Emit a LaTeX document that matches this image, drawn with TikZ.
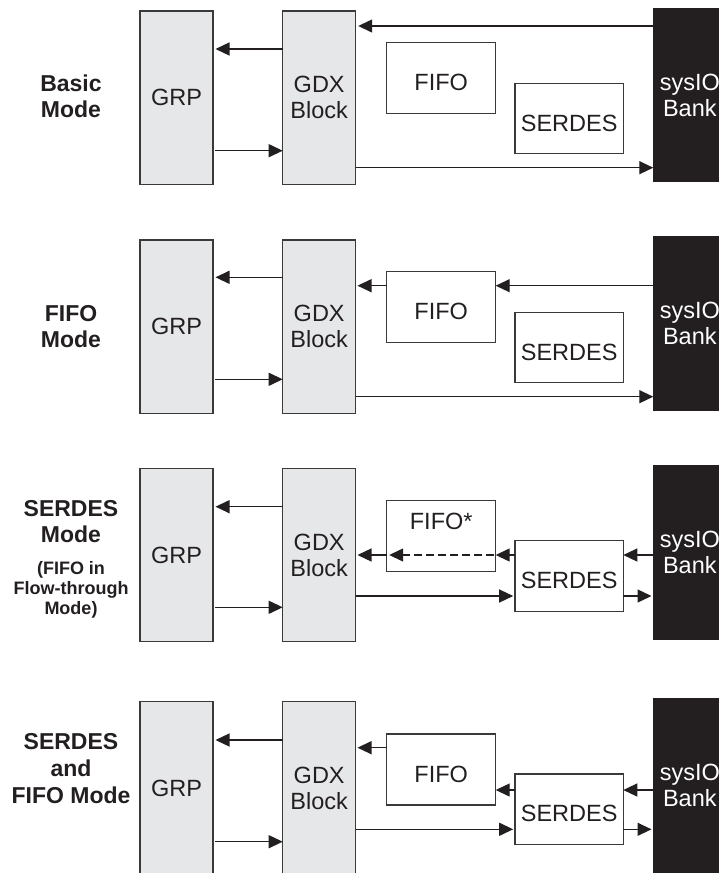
\documentclass[tikz,border=0pt]{standalone}
\usepackage{fontspec}
\setmainfont{Liberation Sans}
\usetikzlibrary{arrows.meta}
\definecolor{ink}{HTML}{231F20}
\definecolor{boxgray}{HTML}{E6E7E8}
\definecolor{edge}{HTML}{3A3A3A}
\begin{document}
\begin{tikzpicture}[x=1pt,y=-1pt,
  every node/.style={inner sep=0pt, outer sep=0pt, text=ink},
  boxfont/.style={font=\fontsize{23.5}{26}\selectfont},
  gbox/.style={boxfont, draw=edge, fill=boxgray, line width=1.2pt, minimum width=73pt,
    minimum height=173.4pt, anchor=north west, align=center},
  sbox/.style={boxfont, draw=ink, fill=ink, text=white, line width=1.2pt, minimum width=73pt,
    minimum height=173.4pt, anchor=north west, align=center},
  fbox/.style={boxfont, draw=edge, fill=white, line width=1.2pt, minimum width=109pt,
    minimum height=71pt, anchor=north west, text height=25pt, text depth=0pt},
  rbox/.style={boxfont, draw=edge, fill=white, line width=1.2pt, minimum width=108.3pt,
    minimum height=70.5pt, anchor=north west, text height=25pt, text depth=0pt},
  lbl/.style={align=center, font=\fontsize{23}{26}\selectfont\bfseries},
  slbl/.style={align=center, font=\fontsize{18}{20}\selectfont\bfseries},
  arr/.style={draw=ink, line width=1.3pt, -{Triangle[length=14pt,width=13pt]}},
  gap/.style={shorten >=2.5pt},
  sgap/.style={shorten >=1.8pt},
  dashline/.style={dash pattern=on 8pt off 4pt}
]
\useasboundingbox (0,0) rectangle (719,873);
\clip (0,0) rectangle (719,873);

% ---------- Panel 1: Basic Mode ----------
\node[gbox] (grpA) at (140,11) {GRP};
\node[gbox] (gdxA) at (282.7,11) {GDX\\Block};
\node[sbox] (sysA) at (653.3,8.3) {sysIO\\Bank};
\node[fbox] (fifoA) at (386.7,42.7) {FIFO};
\node[rbox] (serA) at (515,83.3) {SERDES};
\node[lbl] (labA) at (71,96.3) {Basic\\Mode};
\draw[arr,gap] (sysA.west |- 0,26) -- (gdxA.east |- 0,26);
\draw[arr,gap] (gdxA.west |- 0,49) -- (grpA.east |- 0,49);
\draw[arr,shorten <=2.3pt] (grpA.east |- 0,150.7) -- (gdxA.west |- 0,150.7);
\draw[arr] (gdxA.east |- 0,167.7) -- (sysA.west |- 0,167.7);

% ---------- Panel 2: FIFO Mode ----------
\node[gbox] (grpB) at (140,240) {GRP};
\node[gbox] (gdxB) at (282.7,240) {GDX\\Block};
\node[sbox] (sysB) at (653.3,236.7) {sysIO\\Bank};
\node[fbox] (fifoB) at (386.7,271.7) {FIFO};
\node[rbox] (serB) at (515,312.3) {SERDES};
\node[lbl] (labB) at (71,326.5) {FIFO\\Mode};
\draw[arr,gap] (gdxB.west |- 0,277.3) -- (grpB.east |- 0,277.3);
\draw[arr] (sysB.west |- 0,285.7) -- (fifoB.east |- 0,285.7);
\draw[arr,sgap] (fifoB.west |- 0,285.7) -- (gdxB.east |- 0,285.7);
\draw[arr,shorten <=2.3pt] (grpB.east |- 0,379.3) -- (gdxB.west |- 0,379.3);
\draw[arr] (gdxB.east |- 0,396.7) -- (sysB.west |- 0,396.7);

% ---------- Panel 3: SERDES Mode ----------
\node[gbox] (grpC) at (140,468.3) {GRP};
\node[gbox] (gdxC) at (282.7,468.3) {GDX\\Block};
\node[sbox] (sysC) at (653.3,466) {sysIO\\Bank};
\node[fbox, text height=17pt, text depth=29.7pt] (fifoC) at (386.7,500.7) {FIFO*};
\node[rbox] (serC) at (515,540.7) {SERDES};
\node[lbl] (labC) at (71,522) {SERDES\\Mode};
\node[slbl] (labCs) at (71,590) {(FIFO in\\Flow-through\\Mode)};
\draw[arr,gap] (gdxC.west |- 0,506.7) -- (grpC.east |- 0,506.7);
\draw[arr] (sysC.west |- 0,555) -- (serC.east |- 0,555);
\draw[arr] (serC.west |- 0,555) -- (fifoC.east |- 0,555);
\draw[arr,dashline,gap,shorten <=1.5pt] (fifoC.east |- 0,555) -- (fifoC.west |- 0,555);
\draw[arr,sgap] (fifoC.west |- 0,555) -- (gdxC.east |- 0,555);
\draw[arr,sgap] (gdxC.east |- 0,596) -- (serC.west |- 0,596);
\draw[arr,sgap] (serC.east |- 0,596) -- (sysC.west |- 0,596);
\draw[arr,shorten <=2.3pt] (grpC.east |- 0,607.3) -- (gdxC.west |- 0,607.3);

% ---------- Panel 4: SERDES and FIFO Mode ----------
\node[gbox] (grpD) at (140,701.7) {GRP};
\node[gbox] (gdxD) at (282.7,701.7) {GDX\\Block};
\node[sbox] (sysD) at (653.3,699) {sysIO\\Bank};
\node[fbox] (fifoD) at (386.7,734) {FIFO};
\node[rbox] (serD) at (515,774) {SERDES};
\node[lbl, font=\fontsize{23}{26.6}\selectfont\bfseries] (labD) at (71,768.5) {SERDES\\and\\FIFO Mode};
\draw[arr,gap] (gdxD.west |- 0,740) -- (grpD.east |- 0,740);
\draw[arr,sgap] (fifoD.west |- 0,747.7) -- (gdxD.east |- 0,747.7);
\draw[arr] (sysD.west |- 0,790) -- (serD.east |- 0,790);
\draw[arr] (serD.west |- 0,790) -- (fifoD.east |- 0,790);
\draw[arr,sgap] (gdxD.east |- 0,829.3) -- (serD.west |- 0,829.3);
\draw[arr,sgap] (serD.east |- 0,829.3) -- (sysD.west |- 0,829.3);
\draw[arr,shorten <=2.3pt] (grpD.east |- 0,841.7) -- (gdxD.west |- 0,841.7);
\end{tikzpicture}
\end{document}
